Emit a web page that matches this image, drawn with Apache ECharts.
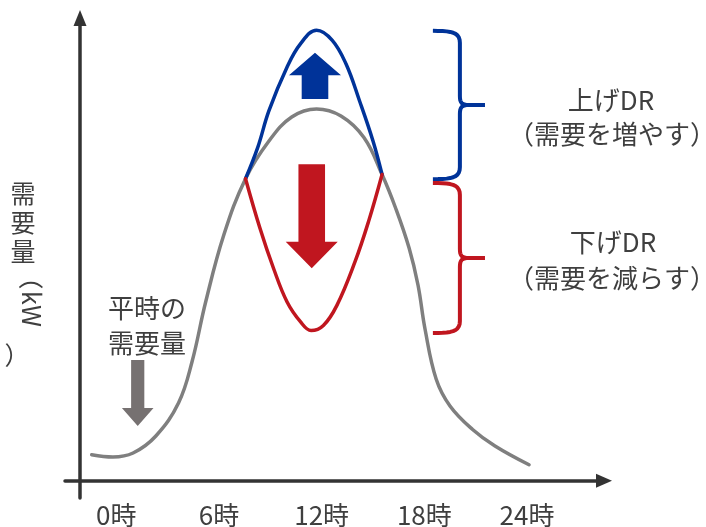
<!DOCTYPE html>
<html>
<head>
<meta charset="utf-8">
<script src="https://cdn.jsdelivr.net/npm/echarts@6/dist/echarts.min.js"></script>
<style>
  html, body { margin: 0; padding: 0; background: #ffffff; }
  #chart { width: 706px; height: 527px; }
</style>
</head>
<body>
<div id="chart"></div>
<script>
// Hour-of-day ticks on the time axis
const tickHours = [0, 6, 12, 18, 24];
const tickLabels = ['0時', '6時', '12時', '18時', '24時'];

// Usual daily demand profile: [hour, demand]
const baseDemand = [
  [-1.44, 6.1], [-0.2, 5.57], [0.98, 6.5], [2.31, 10.47], [3.64, 18.24],
  [4.42, 27.73], [5.22, 41.73], [6.28, 57.37], [7.55, 70.5], [8.92, 79.3],
  [10.25, 84.9], [11.7, 86.77], [13.13, 85.13], [14.47, 80.1], [15.53, 71.48],
  [16.32, 63.67], [17.11, 54.33], [17.63, 45.7], [18.04, 35.43], [18.69, 23.77],
  [19.5, 17.47], [20.82, 11.98], [22.13, 8.13], [24.12, 3.75]
];

// Demand raised by up-DR around the peak
const upDemand = [
  [7.55, 70.5], [8.26, 77.74], [8.92, 86.37], [9.98, 96.57], [10.77, 102.03],
  [11.7, 105.15], [12.62, 102.8], [13.42, 97.31], [14.21, 88.7], [15.0, 79.3],
  [15.53, 71.48]
];

// Demand lowered by down-DR around the peak
const downDemand = [
  [7.55, 70.5], [8.39, 59.0], [9.19, 49.55], [9.98, 41.73], [10.77, 37.07],
  [11.38, 35.08], [12.1, 36.25], [12.89, 40.94], [13.95, 51.14], [14.74, 60.52],
  [15.53, 71.48]
];

// Arrows: [hour, tail value, tip value]
const upArrow = [[11.61, 89.1, 99.9]];
const downArrow = [[11.42, 73.9, 49.6]];
const baseArrow = [[1.25, 28.2, 12.8]];

// Braces: [hour, top value, bottom value]
const upBrace = [[18.5, 105.0, 70.4]];
const downBrace = [[18.5, 69.5, 34.5]];

// Side notes
const upLabel = ['上げDR', '（需要を増やす）'];
const downLabel = ['下げDR', '（需要を減らす）'];
const baseLabel = ['平時の', '需要量'];

const FONT = '"Noto Sans CJK JP", "Noto Sans", sans-serif';
const INK = '#3f3f3f';
const GRAY = '#7f7f7f';
const BLUE = '#003399';
const RED = '#c0161f';

const chart = echarts.init(document.getElementById('chart'), null, { renderer: 'canvas' });

function arrowRenderer(cfg) {
  return function (params, api) {
    const tail = api.coord([api.value(0), api.value(1)]);
    const tip = api.coord([api.value(0), api.value(2)]);
    const dir = tip[1] < tail[1] ? -1 : 1;
    const x = tip[0];
    const hb = tip[1] - dir * cfg.head;
    return {
      type: 'polygon',
      shape: {
        points: [
          [x - cfg.shaft, tail[1]], [x - cfg.shaft, hb], [x - cfg.wing, hb],
          [x, tip[1]], [x + cfg.wing, hb], [x + cfg.shaft, hb], [x + cfg.shaft, tail[1]]
        ]
      },
      style: { fill: cfg.color }
    };
  };
}

function cubicPts(p0, c1, c2, p3, n) {
  const out = [];
  for (let i = 0; i <= n; i++) {
    const t = i / n, u = 1 - t;
    out.push([
      u * u * u * p0[0] + 3 * u * u * t * c1[0] + 3 * u * t * t * c2[0] + t * t * t * p3[0],
      u * u * u * p0[1] + 3 * u * u * t * c1[1] + 3 * u * t * t * c2[1] + t * t * t * p3[1]
    ]);
  }
  return out;
}

function braceRenderer(color) {
  return function (params, api) {
    const top = api.coord([api.value(0), api.value(1)]);
    const bot = api.coord([api.value(0), api.value(2)]);
    const x0 = top[0], x1 = x0 + 27, x2 = x0 + 52;
    const yT = top[1], yB = bot[1], yM = (yT + yB) / 2;
    const upper = [].concat(
      cubicPts([x0, yT], [x0 + 18, yT], [x1, yT + 1], [x1, yT + 12], 10),
      cubicPts([x1, yM - 9], [x1, yM - 2], [x1 + 2, yM], [x1 + 9, yM], 8),
      [[x2, yM]]
    );
    const lower = [].concat(
      [[x2, yM]],
      cubicPts([x1 + 9, yM], [x1 + 2, yM], [x1, yM + 2], [x1, yM + 9], 8),
      cubicPts([x1, yB - 12], [x1, yB - 1], [x0 + 18, yB], [x0, yB], 10)
    );
    const st = { stroke: color, lineWidth: 4, fill: null, lineJoin: 'round', lineCap: 'butt' };
    return {
      type: 'group',
      children: [
        { type: 'polyline', shape: { points: upper }, style: st },
        { type: 'polyline', shape: { points: lower }, style: st }
      ]
    };
  };
}

function txt(text, x, y, size, opts) {
  opts = opts || {};
  return {
    type: 'text',
    x: x, y: y,
    rotation: opts.rotation || 0,
    z: 10,
    style: {
      text: text,
      font: size + 'px ' + FONT,
      fill: opts.color || INK,
      align: opts.align || 'center',
      verticalAlign: 'middle',
      textAlign: opts.align || 'center',
      textVerticalAlign: 'middle'
    }
  };
}

const lineStyle = (c, w) => ({ color: c, width: w, cap: 'round', join: 'round' });

chart.setOption({
  animation: false,
  backgroundColor: '#ffffff',
  grid: { left: 65, right: 102, top: 18, bottom: 29, outerBoundsMode: 'none', containLabel: false },
  xAxis: {
    type: 'value',
    min: -3,
    max: 28.5,
    axisLine: {
      onZero: true,
      lineStyle: { color: '#333333', width: 3.5 },
      symbol: ['none', 'triangle'],
      symbolSize: [14, 16]
    },
    axisTick: { show: false },
    splitLine: { show: false },
    axisLabel: {
      customValues: tickHours,
      margin: 4,
      fontSize: 26,
      fontFamily: FONT,
      color: INK,
      formatter: v => tickLabels[tickHours.indexOf(v)] || ''
    }
  },
  yAxis: {
    type: 'value',
    min: -4,
    max: 108,
    offset: -15,
    axisLine: {
      show: true,
      onZero: false,
      lineStyle: { color: '#333333', width: 3.5 },
      symbol: ['none', 'triangle'],
      symbolSize: [13, 16]
    },
    axisTick: { show: false },
    splitLine: { show: false },
    axisLabel: { show: false }
  },
  series: [
    {
      name: '平時の需要量', type: 'line', data: baseDemand, smooth: 0.4,
      showSymbol: false, symbol: 'none', lineStyle: lineStyle(GRAY, 3.5), z: 2
    },
    {
      name: '上げDR', type: 'line', data: upDemand, smooth: 0.4,
      showSymbol: false, symbol: 'none', lineStyle: lineStyle(BLUE, 3.5), z: 3
    },
    {
      name: '下げDR', type: 'line', data: downDemand, smooth: 0.4,
      showSymbol: false, symbol: 'none', lineStyle: lineStyle(RED, 3.5), z: 3
    },
    {
      type: 'custom', data: upArrow, encode: { x: 0, y: [1, 2] }, z: 4,
      renderItem: arrowRenderer({ color: BLUE, shaft: 13.3, wing: 26, head: 22.5 })
    },
    {
      type: 'custom', data: downArrow, encode: { x: 0, y: [1, 2] }, z: 4,
      renderItem: arrowRenderer({ color: RED, shaft: 13.3, wing: 26, head: 26.5 })
    },
    {
      type: 'custom', data: baseArrow, encode: { x: 0, y: [1, 2] }, z: 4,
      renderItem: arrowRenderer({ color: '#767171', shaft: 6.6, wing: 15.8, head: 18 })
    },
    {
      type: 'custom', data: upBrace, encode: { x: 0, y: [1, 2] }, z: 4,
      renderItem: braceRenderer(BLUE)
    },
    {
      type: 'custom', data: downBrace, encode: { x: 0, y: [1, 2] }, z: 4,
      renderItem: braceRenderer(RED)
    }
  ],
  graphic: [
    txt(upLabel[0], 611, 100, 26),
    txt(upLabel[1], 612, 134, 26),
    txt(downLabel[0], 613, 242, 26),
    txt(downLabel[1], 612, 278, 26),
    txt(baseLabel[0], 108, 308, 26, { align: 'left' }),
    txt(baseLabel[1], 108, 343, 26, { align: 'left' }),
    // vertical axis title 需要量（kW）
    txt('需', 23, 193, 25),
    txt('要', 23, 222, 25),
    txt('量', 23, 251, 25),
    txt('（', 30, 277, 25, { rotation: -Math.PI / 2 }),
    txt('kW', 31, 309, 25, { rotation: -Math.PI / 2 }),
    txt('）', 17, 355, 25)
  ]
});
</script>
</body>
</html>
